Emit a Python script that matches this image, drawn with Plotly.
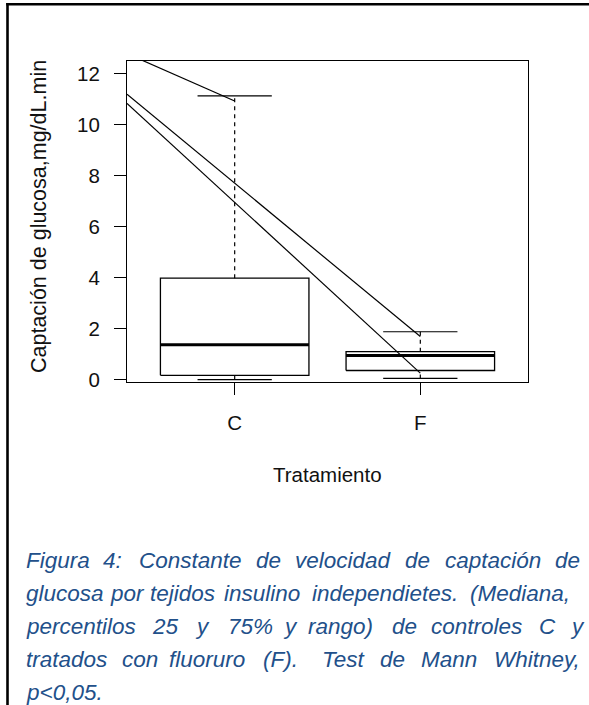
import plotly.graph_objects as go

# ---------------- data ----------------
categories = ["C", "F"]
q1 = [0.17, 0.36]
medians = [1.37, 0.95]
q3 = [3.98, 1.10]
whisker_low = [0.00, 0.05]
whisker_high = [11.12, 1.88]

# straight lines drawn across the plot
line_x = [[0.42, 1.0], [0.42, 2.0], [0.42, 2.0]]
line_y = [[12.78, 10.92], [11.19, 1.69], [10.83, 0.26]]

y_ticks = [0, 2, 4, 6, 8, 10, 12]
y_title = "Captación de glucosa,mg/dL.min"
x_title = "Tratamiento"

caption_lines = [
    ["Figura", "4:", "Constante", "de", "velocidad", "de", "captación", "de"],
    ["glucosa", "por", "tejidos", "insulino", "independietes.", "(Mediana,"],
    ["percentilos", "25", "y", "75%", "y", "rango)", "de", "controles", "C", "y"],
    ["tratados", "con", "fluoruro", "(F).", "Test", "de", "Mann", "Whitney,"],
    ["p<0,05."],
]

# ---------------- layout geometry (pixels) ----------------
W, H = 589, 705
ML, MR, MT, MB = 127, 61, 61, 323
PW = W - ML - MR
PH = H - MT - MB

def px_x(px):
    return (px - ML) / PW

def px_y(py):
    return (H - MB - py) / PH

caption_word_x = [
    [24, 101, 137, 254, 293, 403, 443, 553],
    [24, 108, 148, 222, 310, 468],
    [24, 150, 193, 226, 281, 306, 390, 429, 537, 568],
    [24, 120, 167, 261, 320, 378, 419, 492],
    [24],
]
caption_baseline = [567, 600, 633, 666, 699]

fig = go.Figure()

BOX_HALF = 0.4
CAP_HALF = 0.2
for i, cat in enumerate(categories):
    pos = i + 1
    # whiskers (dashed)
    fig.add_trace(go.Scatter(x=[pos, pos], y=[q3[i], whisker_high[i]], mode="lines",
                             line=dict(color="black", width=1.2, dash="4px,4px"),
                             showlegend=False, hoverinfo="skip"))
    fig.add_trace(go.Scatter(x=[pos, pos], y=[whisker_low[i], q1[i]], mode="lines",
                             line=dict(color="black", width=1.2, dash="4px,4px"),
                             showlegend=False, hoverinfo="skip"))
    # caps
    for v in (whisker_low[i], whisker_high[i]):
        fig.add_trace(go.Scatter(x=[pos - CAP_HALF, pos + CAP_HALF], y=[v, v], mode="lines",
                                 line=dict(color="black", width=1.2),
                                 showlegend=False, hoverinfo="skip"))
    # box
    fig.add_trace(go.Scatter(
        x=[pos - BOX_HALF, pos + BOX_HALF, pos + BOX_HALF, pos - BOX_HALF, pos - BOX_HALF],
        y=[q1[i], q1[i], q3[i], q3[i], q1[i]], mode="lines",
        line=dict(color="black", width=1.3), showlegend=False, hoverinfo="skip"))
    # median
    fig.add_trace(go.Scatter(x=[pos - BOX_HALF, pos + BOX_HALF], y=[medians[i], medians[i]],
                             mode="lines", line=dict(color="black", width=3),
                             showlegend=False, hoverinfo="skip"))

for lx, ly in zip(line_x, line_y):
    fig.add_trace(go.Scatter(x=lx, y=ly, mode="lines", line=dict(color="black", width=1.2),
                             showlegend=False, hoverinfo="skip"))

FAM = "Liberation Sans, Arial, sans-serif"
axis_font = dict(family=FAM, size=20.5, color="#111111")

fig.update_xaxes(range=[0.42, 2.58], tickvals=[1, 2], ticktext=categories,
                 ticks="outside", ticklen=12, tickwidth=1, tickcolor="black",
                 showline=True, linecolor="black", linewidth=1.2, mirror=True,
                 showgrid=False, zeroline=False, tickfont=axis_font,
                 ticklabelstandoff=10)
fig.update_yaxes(range=[-0.09, 12.49], tickvals=y_ticks,
                 ticks="outside", ticklen=12, tickwidth=1, tickcolor="black",
                 showline=True, linecolor="black", linewidth=1.2, mirror=True,
                 showgrid=False, zeroline=False, tickfont=axis_font,
                 ticklabelstandoff=10)

annotations = [
    dict(text=x_title, x=0.5, y=px_y(474), xref="paper", yref="paper",
         showarrow=False, font=axis_font, xanchor="center", yanchor="middle"),
    dict(text=y_title, x=px_x(38.5), y=px_y(216.5), xref="paper", yref="paper",
         showarrow=False, font=dict(family=FAM, size=21.5, color="#111111"),
         textangle=-90, xanchor="center", yanchor="middle"),
]

cap_font = dict(family=FAM, size=22.5, color="#22508A")
for words, xs, base in zip(caption_lines, caption_word_x, caption_baseline):
    for w, xp in zip(words, xs):
        annotations.append(dict(text="<i>" + w + "</i>", x=px_x(xp), y=px_y(base - 7),
                                xref="paper", yref="paper", showarrow=False, font=cap_font,
                                xanchor="left", yanchor="middle"))

shapes = [
    dict(type="line", xref="paper", yref="paper", x0=px_x(7.5), x1=px_x(7.5),
         y0=px_y(3), y1=px_y(H + 5), line=dict(color="black", width=2.6)),
    dict(type="line", xref="paper", yref="paper", x0=px_x(6.2), x1=px_x(W + 5),
         y0=px_y(4.3), y1=px_y(4.3), line=dict(color="black", width=2.6)),
]

fig.update_layout(width=W, height=H, margin=dict(l=ML, r=MR, t=MT, b=MB),
                  paper_bgcolor="white", plot_bgcolor="white",
                  annotations=annotations, shapes=shapes, showlegend=False)

fig.write_html("out.html", config={"displayModeBar": False},
               post_script="document.body.style.margin='0px';document.body.style.overflow='hidden';")
